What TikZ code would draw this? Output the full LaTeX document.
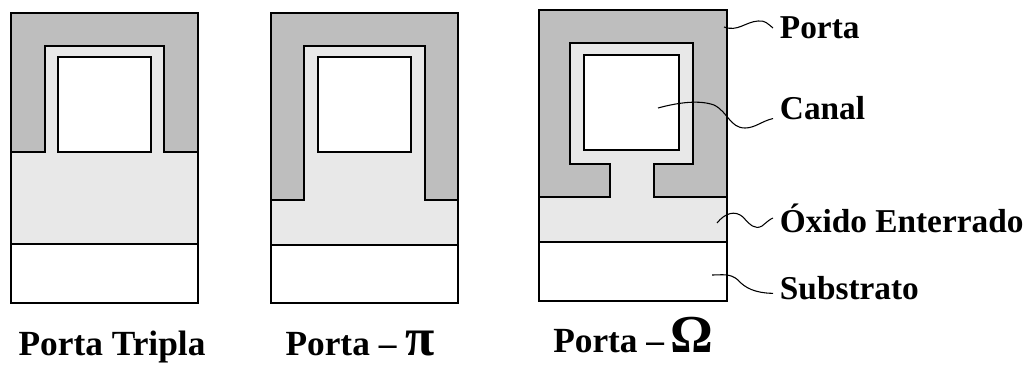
\documentclass[tikz,border=0pt]{standalone}
\usepackage{fontspec}
\setmainfont{Liberation Serif}
\definecolor{gatefill}{HTML}{BEBEBE}
\definecolor{oxidefill}{HTML}{E8E8E8}
\tikzset{
  wall/.style={draw=black,line width=1.7pt,line join=miter},
  gate/.style={wall,fill=gatefill},
  oxide/.style={fill=oxidefill},
  channel/.style={wall,fill=white},
  lead/.style={draw=black,line width=0.8pt},
  tag/.style={font=\bfseries\fontsize{25}{25}\selectfont,inner sep=5pt,anchor=west},
  caption/.style={font=\bfseries\fontsize{26.5}{26.5}\selectfont,inner sep=0pt,anchor=base}
}
\begin{document}
\begin{tikzpicture}[x=0.75pt,y=-0.75pt]
\useasboundingbox (0,0) rectangle (1030,365);
% tripla
\fill[oxide] (11,13) rectangle (198,244);
\draw[gate] (11,152) -- (11,13) -- (198,13) -- (198,152) -- (164,152) -- (164,46) -- (45,46) -- (45,152) -- cycle;
\draw[channel] (58,57) rectangle (151,152);
\draw[wall] (11,152) -- (11,244) -- (198,244) -- (198,152);
\draw[wall] (11,244) rectangle (198,303);
\node[caption] (tripla) at (112,355) {Porta Tripla};
% pi
\fill[oxide] (271,13) rectangle (458,245);
\draw[gate] (271,200) -- (271,13) -- (458,13) -- (458,200) -- (425,200) -- (425,46) -- (304,46) -- (304,200) -- cycle;
\draw[channel] (318,57) rectangle (411,152);
\draw[wall] (271,200) -- (271,245) -- (458,245) -- (458,200);
\draw[wall] (271,245) rectangle (458,303);
\node[caption] (pi) at (360,355) {Porta – {\fontsize{40}{40}\selectfont π}};
% omega
\fill[oxide] (539,10) rectangle (727,242);
\draw[gate] (539,197) -- (539,10) -- (727,10) -- (727,197) -- (654,197) -- (654,164) -- (693,164) -- (693,43) -- (570,43) -- (570,164) -- (610,164) -- (610,197) -- cycle;
\draw[channel] (584,55) rectangle (679,150);
\draw[wall] (539,197) -- (539,242) -- (727,242) -- (727,197);
\draw[wall] (539,242) rectangle (727,301);
\node[caption] (omega) at (633,352) {Porta –\,{\fontsize{40}{40}\selectfont Ω}};
% labels
\node[tag] (porta) at (773,28) {Porta};
\node[tag] (canal) at (773,108) {Canal};
\node[tag] (oxido) at (773,218) {Óxido Enterrado};
\node[tag] (substrato) at (773,288) {Substrato};
\coordinate (portain) at (724,27);
\coordinate (canalin) at (658,108);
\coordinate (oxidoin) at (717,223);
\coordinate (substratoin) at (712,275);
\draw[lead] (portain) .. controls (738,32) and (745,22) .. (758,21) .. controls (765,20) and (768,24) .. (porta.west);
\draw[lead] (canalin) .. controls (680,102) and (700,100) .. (714,105) .. controls (728,112) and (730,128) .. (745,128) .. controls (755,128) and (762,121) .. (canal.192);
\draw[lead] (oxidoin) .. controls (725,213) and (735,210) .. (743,217) .. controls (750,225) and (755,230) .. (762,226) .. controls (767,222) and (770,219) .. (oxido.west);
\draw[lead] (substratoin) .. controls (722,275) and (730,273) .. (738,280) .. controls (745,288) and (755,293) .. (substrato.184);
\end{tikzpicture}
\end{document}
